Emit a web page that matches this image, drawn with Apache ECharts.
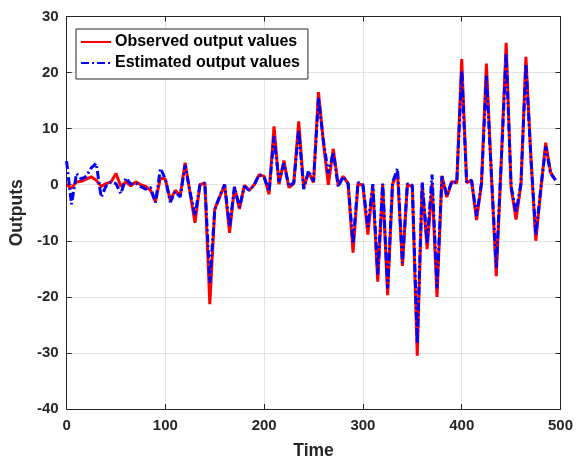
<!DOCTYPE html>
<html>
<head>
<meta charset="utf-8">
<script src="https://cdn.jsdelivr.net/npm/echarts@6/dist/echarts.min.js"></script>
<style>
  html, body { margin: 0; padding: 0; background: #fff; }
  #chart { width: 576px; height: 465px; }
</style>
</head>
<body>
<div id="chart"></div>
<script>
// Sample times
const times = [
  0, 5, 10, 15, 20, 25, 30, 35, 40, 45, 50, 55, 60, 65, 70, 75, 80, 85, 90, 95,
  100, 105, 110, 115, 120, 125, 130, 135, 140, 145, 150, 155, 160, 165, 170, 175, 180, 185, 190, 195,
  200, 205, 210, 215, 220, 225, 230, 235, 240, 245, 250, 255, 260, 265, 270, 275, 280, 285, 290, 295,
  300, 305, 310, 315, 320, 325, 330, 335, 340, 345, 350, 355, 360, 365, 370, 375, 380, 385, 390, 395,
  400, 405, 410, 415, 420, 425, 430, 435, 440, 445, 450, 455, 460, 465, 470, 475, 480, 485, 490, 495
];

// Observed output values
const observed = [
  0, -0.6, 0.5, 0.6, 1.0, 1.4, 0.8, -0.3, 0.2, 0.5, 2.0, -0.3, 0.5, -0.2, 0.5, 0, -0.3, -1.0, -3.0, 1.2,
  1.0, -2.8, -1.0, -2.0, 3.9, -1.5, -6.8, 0, 0.3, -21.3, -4.3, -2.2, 0, -8.6, -0.4, -4.3, -0.1, -1.0, 0, 1.8,
  1.5, -1.7, 10.4, 0.1, 4.3, -0.5, 0.2, 11.3, -0.5, 2.2, 0.4, 16.5, 7.5, 0, 6.4, -0.1, 1.5, 0.2, -12.1, 0.2,
  -0.1, -8.9, -0.2, -17.3, 0.1, -19.7, 0.1, 2.3, -14.5, 0, -0.3, -30.5, 0.2, -11.5, 0.1, -20, 1.6, -2.2, 0.6, 0.3,
  22.4, 0.4, 0.7, -6.3, 0.1, 21.6, 2, -16.3, 4, 25.3, -0.5, -6.2, 0.1, 22.8, 5, -10, -1, 7.5, 2.2, 0.8
];

// Estimated output values
const estimated = [
  4.2, -3.5, 2.0, 1.0, 1.5, 3.0, 3.8, -2.2, -0.2, 0.5, 0.2, -1.6, 1.2, 0.1, 0.3, -0.3, -0.8, -0.5, -3.2, 2.9,
  1.0, -3.1, -1.2, -2.2, 3.5, -1.3, -5.5, 0, 0.3, -17.5, -4.5, -2.0, 0, -7.5, -0.4, -4.0, -0.3, -1.0, 0, 1.8,
  1.3, -1.2, 8.6, 0.5, 3.8, -0.3, 0.4, 9.8, -0.8, 2.5, 0.6, 15.5, 7.8, 2.0, 5.8, -0.4, 1.5, 0.2, -10.5, 0.4,
  0, -7.5, 0.1, -16, 0.2, -18.5, 0.4, 2.9, -14, 0.2, -0.1, -28.3, 0.4, -10.5, 1.8, -18.5, 1.5, -2, 0.6, 0.4,
  20.3, 0.5, 0.8, -5.6, 0.3, 19.4, 2, -14.8, 4, 23.5, -0.3, -5, 0.3, 21.5, 5, -9, -0.8, 6.8, 2, 0.8
];

const xTicks = [0, 100, 200, 300, 400, 500];
const yTicks = [-40, -30, -20, -10, 0, 10, 20, 30];

const ink = '#262626';
const font = 'Liberation Sans, Arial, sans-serif';

const pairs = (vals) => times.map((t, i) => [t, vals[i]]);

const frameAxis = {
  axisLine: { show: true, onZero: false, lineStyle: { color: ink, width: 1 } },
  axisTick: { show: true, inside: true, length: 5, lineStyle: { color: ink, width: 1 } }
};

const chart = echarts.init(document.getElementById('chart'), null, { renderer: 'canvas' });
chart.setOption({
  animation: false,
  backgroundColor: '#ffffff',
  grid: { left: 63, top: 16.5, width: 497.5, height: 400, containLabel: false },
  legend: {
    orient: 'vertical',
    left: 76,
    top: 29,
    padding: [5, 8, 8, 4],
    itemGap: 5,
    itemWidth: 30,
    itemHeight: 14,
    backgroundColor: '#ffffff',
    borderColor: ink,
    borderWidth: 1,
    borderRadius: 0,
    // line-only keys: hide the marker drawn over the line sample
    itemStyle: { color: 'rgba(0,0,0,0)', borderColor: 'rgba(0,0,0,0)', borderWidth: 0 },
    textStyle: { fontFamily: font, fontWeight: 'bold', fontSize: 16, color: '#000', padding: [0, 0, 0, -1] },
    data: ['Observed output values', 'Estimated output values']
  },
  xAxis: [
    Object.assign({
      type: 'value', position: 'bottom', min: xTicks[0], max: xTicks[xTicks.length - 1], interval: 100,
      name: 'Time', nameLocation: 'middle', nameGap: 33,
      nameTextStyle: { fontFamily: font, fontWeight: 'bold', fontSize: 17.5, color: ink },
      axisLabel: { fontFamily: font, fontWeight: 'bold', fontSize: 15, color: ink, margin: 9 },
      splitLine: { show: true, lineStyle: { color: '#e3e3e3', width: 1 } }
    }, frameAxis),
    Object.assign({
      type: 'value', position: 'top', min: xTicks[0], max: xTicks[xTicks.length - 1], interval: 100,
      axisLabel: { show: false }, splitLine: { show: false }
    }, frameAxis)
  ],
  yAxis: [
    Object.assign({
      type: 'value', position: 'left', min: yTicks[0], max: yTicks[yTicks.length - 1], interval: 10,
      name: 'Outputs', nameLocation: 'middle', nameGap: 30, nameRotate: 90,
      nameTextStyle: { fontFamily: font, fontWeight: 'bold', fontSize: 17.5, color: ink },
      axisLabel: { fontFamily: font, fontWeight: 'bold', fontSize: 15, color: ink, margin: 8 },
      splitLine: { show: true, lineStyle: { color: '#e3e3e3', width: 1 } }
    }, frameAxis),
    Object.assign({
      type: 'value', position: 'right', min: yTicks[0], max: yTicks[yTicks.length - 1], interval: 10,
      axisLabel: { show: false }, splitLine: { show: false }
    }, frameAxis)
  ],
  series: [
    {
      name: 'Observed output values',
      type: 'line',
      xAxisIndex: 0, yAxisIndex: 0,
      data: pairs(observed),
      symbol: 'none',
      lineStyle: { color: '#ff0000', width: 3 },
      itemStyle: { color: '#ff0000' },
      z: 2
    },
    {
      name: 'Estimated output values',
      type: 'line',
      xAxisIndex: 0, yAxisIndex: 0,
      data: pairs(estimated),
      symbol: 'none',
      lineStyle: { color: '#0000ff', width: 3, type: [8, 3, 2, 3] },
      itemStyle: { color: '#0000ff' },
      z: 3
    }
  ]
});
</script>
</body>
</html>
